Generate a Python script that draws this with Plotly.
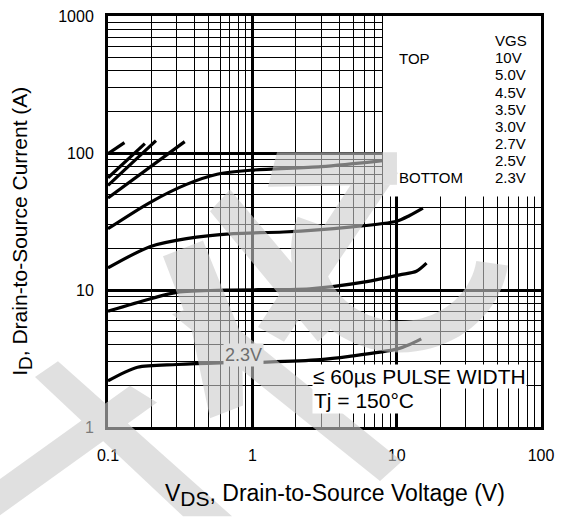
import numpy as np
import plotly.graph_objects as go

# ---- data: output characteristics, ID vs VDS for each gate voltage ----
vds_10v = [0.1, 0.13]
id_10v = [99, 119]
vds_5v0 = [0.1, 0.18]
id_5v0 = [66, 117]
vds_4v5 = [0.1, 0.215]
id_4v5 = [58, 123]
vds_3v5 = [0.1, 0.34]
id_3v5 = [47, 121]
vds_3v0 = [0.1, 0.195, 0.35, 0.57, 1.0, 3.0, 8.0]
id_3v0 = [28, 43.5, 59, 70, 75, 79.5, 88]
vds_2v7 = [0.1, 0.195, 0.35, 0.74, 1.64, 4.7, 10, 12.3, 15.2]
id_2v7 = [14.5, 20.7, 23.7, 25.8, 26.5, 28.8, 31.8, 35, 39.6]
vds_2v5 = [0.1, 0.195, 0.3, 0.665, 2.5, 6.2, 10.5, 13.7, 16.1]
id_2v5 = [7.0, 8.6, 9.6, 10.0, 10.2, 11.5, 12.9, 13.7, 15.7]
vds_2v3 = [0.1, 0.16, 0.3, 0.6, 1.26, 2.95, 4.7, 10, 12.3, 14.8]
id_2v3 = [2.17, 2.73, 2.86, 2.94, 2.98, 3.1, 3.28, 3.7, 4.0, 4.4]

vgs_labels = ["10V", "5.0V", "4.5V", "3.5V", "3.0V", "2.7V", "2.5V", "2.3V"]
series = [
    (vds_10v, id_10v), (vds_5v0, id_5v0), (vds_4v5, id_4v5), (vds_3v5, id_3v5),
    (vds_3v0, id_3v0), (vds_2v7, id_2v7), (vds_2v5, id_2v5), (vds_2v3, id_2v3),
]
x_ticks = [0.1, 1, 10, 100]
y_ticks = [1, 10, 100, 1000]

# ---- page geometry (pixels) ----
W, H = 567, 518
L, R, T, B = 108, 541, 8, 427
FONT = "Liberation Sans, Arial, Helvetica, sans-serif"


def pp(x, y):
    """pixel position -> paper coordinates"""
    return (x - L) / (R - L), (B - y) / (B - T)


fig = go.Figure()
for (xs, ys), name in zip(series, vgs_labels):
    fig.add_trace(go.Scatter(
        x=xs, y=ys, mode="lines", name=name,
        line=dict(color="black", width=3.2, shape="spline", smoothing=0.8),
        showlegend=False, hoverinfo="skip",
    ))

axis_common = dict(
    type="log", dtick=1, showgrid=True, gridcolor="black", gridwidth=2.6,
    minor=dict(dtick="D1", showgrid=True, gridcolor="black", gridwidth=1.3, ticks=""),
    showline=True, linecolor="black", linewidth=3, mirror=True,
    ticks="", zeroline=False,
    tickfont=dict(family=FONT, size=16, color="black"),
)
fig.update_xaxes(range=[-1, 2], tickvals=x_ticks, ticktext=["0.1", "1", "10", "100"],
                 ticklabelstandoff=12, **axis_common)
fig.update_yaxes(range=[0, 3], tickvals=y_ticks, ticktext=["1", "10", "100", "1000"],
                 ticklabelstandoff=8, **axis_common)

shapes = []
# white panel holding the gate-voltage list (covers the grid there)
x0, y0 = pp(383, 192)
shapes.append(dict(type="rect", xref="paper", yref="paper", x0=x0, y0=y0, x1=1, y1=1,
                   fillcolor="white", line=dict(width=0), layer="above"))


# ---- translucent watermark strokes ----
def poly_path(pts):
    q = [pp(*p) for p in pts]
    area = sum(a[0] * b[1] - b[0] * a[1] for a, b in zip(q, q[1:] + q[:1]))
    if area < 0:
        q = q[::-1]
    return "M " + " L ".join(f"{x:.4f},{y:.4f}" for x, y in q) + " Z"


wm_polys = [
    [(0, 480), (130, 385), (157, 402), (0, 517)],
    [(35, 376), (58, 360), (232, 518), (183, 518)],
    [(163, 253), (203, 237), (242, 335), (243, 405), (210, 418), (192, 330)],
    [(172, 312), (205, 300), (402, 462), (380, 482)],
    [(210, 207), (230, 185), (340, 318), (318, 340)],
    [(370, 150), (398, 168), (284, 340), (258, 325)],
    [(268, 182), (277, 147), (397, 147), (397, 180)],
]
cx, cy, rx, ry, sw = 400, 248, 93, 87, 32
th = np.radians(np.linspace(160, 352, 48))
outer = [(cx + (rx + sw / 2) * np.cos(t), cy - (ry + sw / 2) * np.sin(t)) for t in th]
inner = [(cx + (rx - sw / 2) * np.cos(t), cy - (ry - sw / 2) * np.sin(t)) for t in th]
wm_polys.append(outer + inner[::-1])

wm_path = " ".join(poly_path(p) for p in wm_polys)
shapes.append(dict(type="path", xref="paper", yref="paper", path=wm_path,
                   fillcolor="#cccccc", line=dict(width=0), opacity=0.6,
                   fillrule="nonzero", layer="above"))

ann = []


def add_text(text, x, y, size, xanchor="left", **kw):
    px, py = pp(x, y)
    d = dict(text=text, x=px, y=py, xref="paper", yref="paper", showarrow=False,
             xanchor=xanchor, yanchor="middle",
             font=dict(family=FONT, size=size, color=kw.pop("color", "black")))
    d.update(kw)
    ann.append(d)


# gate-voltage list
add_text("VGS", 493, 33, 15)
add_text("TOP", 397, 51, 15)
for i, lab in enumerate(vgs_labels):
    add_text(lab, 493, 50.7 + 17.4 * i, 15)
add_text("BOTTOM", 397, 172.5, 15)

# test-condition note
add_text("\u2264 60\u00b5s PULSE WIDTH", 312, 376, 21, bgcolor="white", borderpad=0)
add_text("Tj = 150\u00b0C", 312, 400, 21, bgcolor="white", borderpad=1)

# curve tag for the lowest gate voltage (sits under the watermark)
add_text("2.3V", 243.5, 353.5, 18, xanchor="center", bgcolor="#e0e0e0",
         borderpad=1, color="#6e6e6e")

# axis titles
add_text("V<sub><span style='font-size:21px'>DS</span></sub>, Drain-to-Source Voltage (V)",
         335, 496, 23, xanchor="center")
add_text("I<sub><span style='font-size:19px'>D</span></sub>, Drain-to-Source Current (A)",
         22, 228, 21, xanchor="center", textangle=-90)

fig.update_layout(
    width=W, height=H,
    margin=dict(l=L, r=W - R, t=T, b=H - B),
    paper_bgcolor="white", plot_bgcolor="white",
    shapes=shapes, annotations=ann,
    font=dict(family=FONT, color="black"),
)

fig.write_html("out.html")
